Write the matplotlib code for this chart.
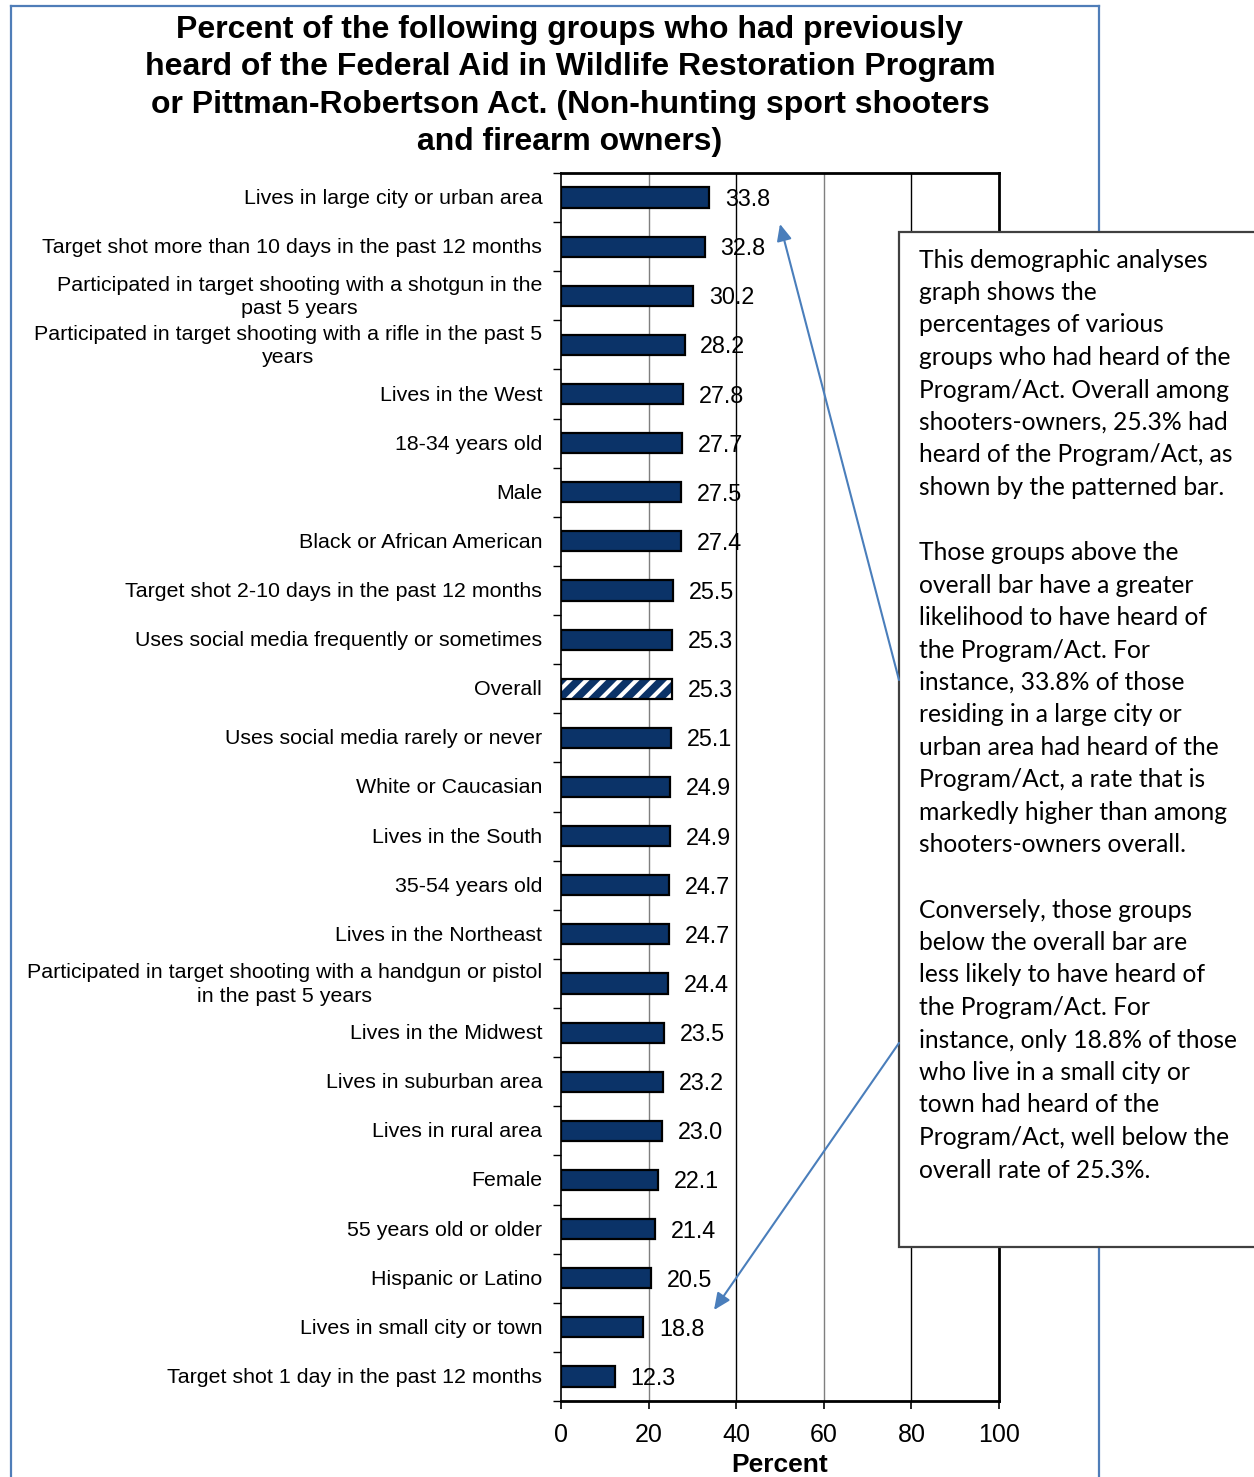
import matplotlib
matplotlib.use("Agg")
import matplotlib.pyplot as plt
from matplotlib.patches import Rectangle, FancyArrowPatch
from matplotlib.lines import Line2D

plt.rcParams['font.family'] = ['Liberation Sans', 'DejaVu Sans']
plt.rcParams['hatch.linewidth'] = 3.0

categories = [
    "Lives in large city or urban area",
    "Target shot more than 10 days in the past 12 months",
    "Participated in target shooting with a shotgun in the\npast 5 years",
    "Participated in target shooting with a rifle in the past 5\nyears",
    "Lives in the West",
    "18-34 years old",
    "Male",
    "Black or African American",
    "Target shot 2-10 days in the past 12 months",
    "Uses social media frequently or sometimes",
    "Overall",
    "Uses social media rarely or never",
    "White or Caucasian",
    "Lives in the South",
    "35-54 years old",
    "Lives in the Northeast",
    "Participated in target shooting with a handgun or pistol\nin the past 5 years",
    "Lives in the Midwest",
    "Lives in suburban area",
    "Lives in rural area",
    "Female",
    "55 years old or older",
    "Hispanic or Latino",
    "Lives in small city or town",
    "Target shot 1 day in the past 12 months",
]
values = [33.8, 32.8, 30.2, 28.2, 27.8, 27.7, 27.5, 27.4, 25.5, 25.3, 25.3,
          25.1, 24.9, 24.9, 24.7, 24.7, 24.4, 23.5, 23.2, 23.0, 22.1, 21.4,
          20.5, 18.8, 12.3]
overall_label = "Overall"
x_ticks = [0, 20, 40, 60, 80, 100]

title = ("Percent of the following groups who had previously\n"
         "heard of the Federal Aid in Wildlife Restoration Program\n"
         "or Pittman-Robertson Act. (Non-hunting sport shooters\n"
         "and firearm owners)")

note_lines = [
    "This demographic analyses",
    "graph shows the",
    "percentages of various",
    "groups who had heard of the",
    "Program/Act. Overall among",
    "shooters-owners, 25.3% had",
    "heard of the Program/Act, as",
    "shown by the patterned bar.",
    "",
    "Those groups above the",
    "overall bar have a greater",
    "likelihood to have heard of",
    "the Program/Act. For",
    "instance, 33.8% of those",
    "residing in a large city or",
    "urban area had heard of the",
    "Program/Act, a rate that is",
    "markedly higher than among",
    "shooters-owners overall.",
    "",
    "Conversely, those groups",
    "below the overall bar are",
    "less likely to have heard of",
    "the Program/Act. For",
    "instance, only 18.8% of those",
    "who live in a small city or",
    "town had heard of the",
    "Program/Act, well below the",
    "overall rate of 25.3%.",
]

W, H = 1254, 1477
fig = plt.figure(figsize=(W / 100, H / 100), dpi=100)


def fx(x):
    return x / W


def fy(y):
    return 1 - y / H


navy = "#0B3368"
frame_blue = "#4F7DB8"

# outer frame around the chart
for xs, ys in [([11, 11], [6, H + 5]), ([11, 1099], [6, 6]), ([1099, 1099], [6, H + 5])]:
    fig.add_artist(Line2D([fx(v) for v in xs], [fy(v) for v in ys],
                          color=frame_blue, lw=1.6, zorder=0))

ax_l, ax_r, ax_t, ax_b = 561, 999, 173, 1401
ax = fig.add_axes([fx(ax_l), fy(ax_b), (ax_r - ax_l) / W, (ax_b - ax_t) / H])

ypos = list(range(len(categories)))
bar_h = 0.41
for y, cat, v in zip(ypos, categories, values):
    if cat == overall_label:
        ax.barh(y, v, height=bar_h, color=navy, edgecolor="none", zorder=3)
        ax.barh(y, v, height=bar_h, color="none", edgecolor="white",
                hatch="//", linewidth=0, zorder=4)
        ax.barh(y, v, height=bar_h, color="none", edgecolor="black",
                linewidth=1.6, zorder=5)
    else:
        ax.barh(y, v, height=bar_h, color=navy, edgecolor="black",
                linewidth=1.6, zorder=3)
    ax.text(v + 3.6, y + 0.04, f"{v:.1f}", va="center", ha="left",
            fontsize=16.8, zorder=2)

ax.set_xlim(0, 100)
ax.set_ylim(len(categories) - 0.5, -0.5)
for t in x_ticks[1:-1]:
    ax.axvline(t, color="black" if t in (40, 80) else "#7f7f7f",
               lw=1.0, zorder=1)

ax.set_xticks(x_ticks)
ax.set_xticklabels([str(t) for t in x_ticks], fontsize=18)
ax.tick_params(axis="x", direction="out", length=6, width=1.2, pad=10)
ax.set_yticks([y + 0.5 for y in ypos[:-1]] + [-0.5, len(categories) - 0.5])
ax.set_yticklabels([])
ax.tick_params(axis="y", direction="out", length=6, width=1.0)
for s in ax.spines.values():
    s.set_linewidth(2.0)
    s.set_color("black")
ax.spines["left"].set_linewidth(1.2)

for y, cat in zip(ypos, categories):
    ax.text(-4.3, y + 0.02, cat, ha="right", va="center", multialignment="center",
            fontsize=15.4, linespacing=1.3)

ax.set_xlabel("Percent", fontsize=19, fontweight="bold", labelpad=4)

fig.text(fx(570), fy(86), title, ha="center", va="center", fontsize=23,
         fontweight="bold", linespacing=1.31)

# explanatory note box
box = Rectangle((fx(899), fy(1247)), fx(1300 - 899), (1247 - 232) / H,
                transform=fig.transFigure, facecolor="white",
                edgecolor="#404040", lw=1.6, zorder=10)
fig.add_artist(box)
for i, line in enumerate(note_lines):
    if line:
        fig.text(fx(919), fy(260 + i * 32.5), line, ha="left", va="center",
                 fontsize=17.7, family=["Lato", "DejaVu Sans"], zorder=11)

arrow_blue = "#4A7EBB"
for (x0, y0), (x1, y1) in [((899, 680), (780, 224)), ((899, 1043), (714, 1310))]:
    fig.add_artist(FancyArrowPatch((fx(x0), fy(y0)), (fx(x1), fy(y1)),
                                   transform=fig.transFigure,
                                   arrowstyle="-|>,head_length=10,head_width=4.5",
                                   color=arrow_blue, lw=1.5, zorder=12,
                                   shrinkA=0, shrinkB=0))

fig.savefig("out.png", dpi=100)
